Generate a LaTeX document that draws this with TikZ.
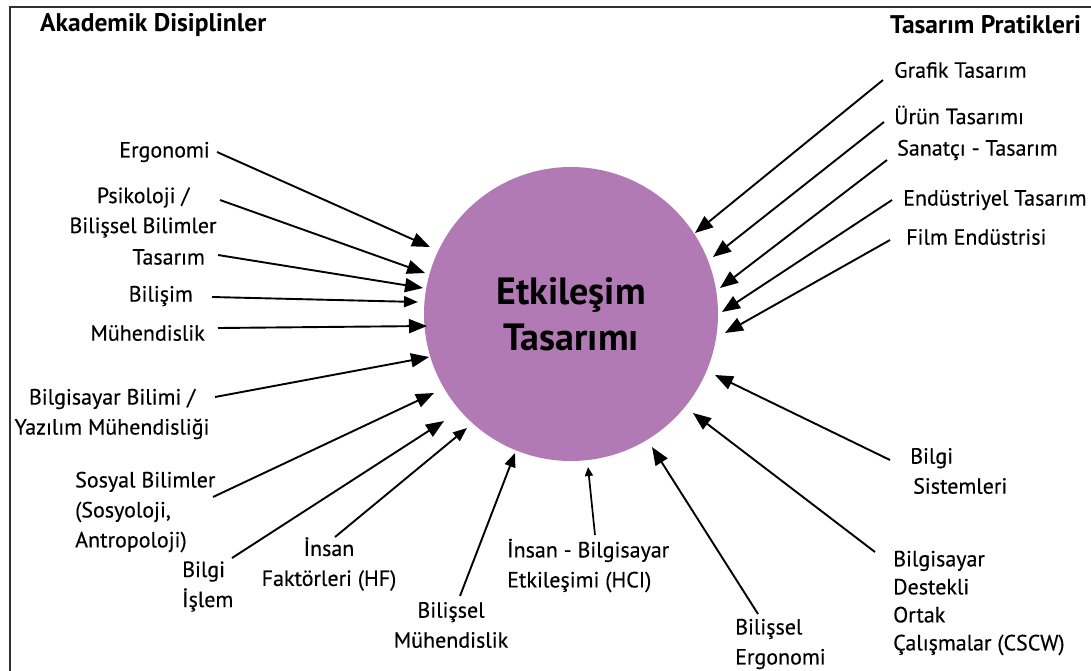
\documentclass[tikz,border=0pt]{standalone}
\usepackage{fontspec}
\setmainfont{PT Sans}
\newfontfamily\lblfont[FakeBold=0.35]{PT Sans}
\usetikzlibrary{arrows.meta}
\definecolor{circ}{RGB}{178,122,180}
\definecolor{framec}{RGB}{50,50,50}
\begin{document}
\begin{tikzpicture}[x=1pt,y=-1pt,
  lbl/.style={font=\lblfont\fontsize{22}{30}\selectfont, inner sep=2pt},
  hdr/.style={font=\bfseries\fontsize{25.5}{30}\selectfont, inner sep=2pt},
  arr/.style={line width=1.9pt, -{Triangle[length=18pt,width=14pt]}},
  arrm/.style={line width=1.9pt, -{Triangle[length=14pt,width=11pt]}},
  arrs/.style={line width=1.7pt, -{Triangle[length=9pt,width=8pt]}},
]
\useasboundingbox (0,0) rectangle (1091,670);
\clip (0,0) rectangle (1091,670);
\fill[white] (0,0) rectangle (1091,670);
\draw[line width=2.5pt, draw=framec] (10,7) rectangle (1120,700);

% centre
\node[circle, fill=circ, minimum size=294pt, inner sep=0pt, align=center,
      font=\bfseries\fontsize{38}{46}\selectfont] (c) at (571,314) {Etkileşim\\Tasarımı};

% headings
\node[hdr, anchor=west] (akad) at (38,25) {Akademik Disiplinler};
\node[hdr, anchor=west] (tpr) at (888,25) {Tasarım Pratikleri};

% left labels
\node[lbl, anchor=east] (ergo) at (212,152) {Ergonomi};
\node[lbl, align=center] (psi) at (143,212.5) {Psikoloji /\\Bilişsel Bilimler};
\node[lbl, anchor=east] (tas) at (207,257) {Tasarım};
\node[lbl, anchor=east] (bilisim) at (195,296) {Bilişim};
\node[lbl, anchor=east] (muh) at (207,333) {Mühendislik};
\node[lbl, align=center] (bilg) at (112,414) {Bilgisayar Bilimi /\\Yazılım Mühendisliği};
\node[lbl, align=left, anchor=west] (sosyal) at (73,512) {Sosyal Bilimler\\(Sosyoloji,\\Antropoloji)};
\node[lbl, align=left, anchor=west] (bislem) at (180,586.5) {Bilgi\\İşlem};
\node[lbl, align=center] (hf) at (329,564) {İnsan\\Faktörleri (HF)};
\node[lbl, align=center] (bmuh) at (451,625) {Bilişsel\\Mühendislik};
\node[lbl, align=left, anchor=west] (hci) at (505,565.5) {İnsan - Bilgisayar\\Etkileşimi (HCI)};
\node[lbl, align=left, anchor=west] (berg) at (733,644) {Bilişsel\\Ergonomi};
\node[lbl, align=left, anchor=west, font=\lblfont\fontsize{22}{28}\selectfont] (cscw) at (891,603) {Bilgisayar\\Destekli\\Ortak\\Çalışmalar (CSCW)};
\node[lbl, align=left, anchor=west] (bsis) at (908,471) {Bilgi\\\hspace*{3pt}Sistemleri};

% right labels
\node[lbl, anchor=west] (graf) at (892,70) {Grafik Tasarım};
\node[lbl, anchor=west] (urun) at (892,115) {Ürün Tasarımı};
\node[lbl, anchor=west] (sanat) at (895,150) {Sanatçı - Tasarım};
\node[lbl, anchor=west] (endus) at (901,200) {Endüstriyel Tasarım};
\node[lbl, anchor=west] (film) at (904,237) {Film Endüstrisi};

% arrow tips
\coordinate (t-ergo) at (430,247);
\coordinate (t-psi) at (425,273);
\coordinate (t-tas) at (423,288);
\coordinate (t-bilisim) at (418,302);
\coordinate (t-muh) at (427,326);
\coordinate (t-bilg) at (429,357);
\coordinate (t-sosyal) at (434,393);
\coordinate (t-bislem) at (444,421);
\coordinate (t-hf) at (467,428);
\coordinate (t-bmuh) at (515,453);
\coordinate (t-hci) at (588,467);
\coordinate (t-berg) at (652,447);
\coordinate (t-cscw) at (693,413);
\coordinate (t-bsis) at (715,375);
\coordinate (t-graf) at (695,233);
\coordinate (t-urun) at (713,257);
\coordinate (t-sanat) at (720,288);
\coordinate (t-endus) at (722,312);
\coordinate (t-film) at (725,333);

% connectors
\draw[arr] ([shift={(5,0)}]ergo.east) -- (t-ergo);
\draw[arr] ([shift={(77,-12.5)}]psi.center) -- (t-psi);
\draw[arr] ([shift={(11,-2)}]tas.east) -- (t-tas);
\draw[arrm] ([shift={(17,1)}]bilisim.east) -- (t-bilisim);
\draw[arr] ([shift={(11,-5)}]muh.east) -- (t-muh);
\draw[arr] ([shift={(103,-17)}]bilg.center) -- (t-bilg);
\draw[arr] ([shift={(140,-15)}]sosyal.west) -- (t-sosyal);
\draw[arr] ([shift={(52,-28.5)}]bislem.west) -- (t-bislem);
\draw[arrm] ([shift={(6,-27)}]hf.center) -- (t-hf);
\draw[arrm] ([shift={(9,-29)}]bmuh.center) -- (t-bmuh);
\draw[arrs] ([shift={(90,-30.5)}]hci.west) -- (t-hci);
\draw[arr] ([shift={(25,-30)}]berg.west) -- (t-berg);
\draw[arr] ([shift={(-16,-51)}]cscw.west) -- (t-cscw);
\draw[arr] ([shift={(-18,-11)}]bsis.west) -- (t-bsis);
\draw[arr] ([shift={(-9,10)}]graf.west) -- (t-graf);
\draw[arr] ([shift={(-8,7)}]urun.west) -- (t-urun);
\draw[arr] ([shift={(-8,10)}]sanat.west) -- (t-sanat);
\draw[arr] ([shift={(-9,0)}]endus.west) -- (t-endus);
\draw[arr] ([shift={(-14,3)}]film.west) -- (t-film);
\end{tikzpicture}
\end{document}
